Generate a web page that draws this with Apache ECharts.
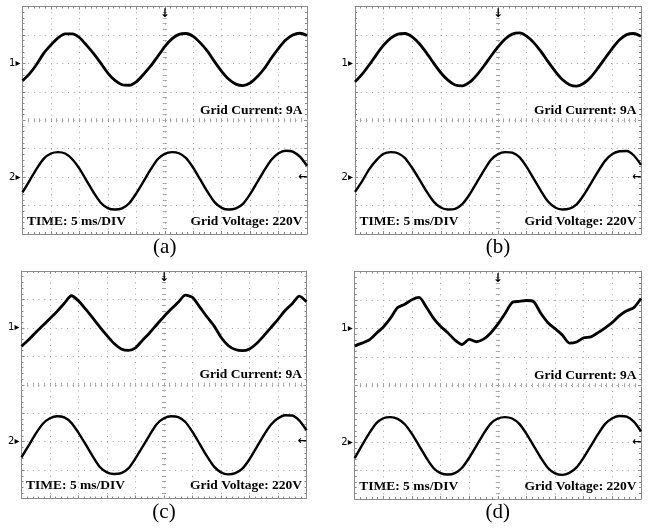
<!DOCTYPE html>
<html>
	<head>
		<meta charset="UTF-8">
		<title>Grid current and grid voltage</title>
	</head>
	<style>
		*{
			padding:0;
			margin:0;
		}
		body{
			background:#fff;
		}
		#main{
			width:654px;
			height:529px;
		}
	</style>
	<body>
		<div id="main"></div>
	</body>
	<script type="text/javascript" src="https://cdn.jsdelivr.net/npm/echarts@6/dist/echarts.min.js"></script>
	<script>
		// time in divisions from screen centre (5 ms/DIV)
		var timeDiv = [-5,-4.75,-4.5,-4.25,-4,-3.75,-3.5,-3.25,-3,-2.75,-2.5,-2.25,-2,-1.75,-1.5,-1.25,-1,-0.75,-0.5,-0.25,0,
			0.25,0.5,0.75,1,1.25,1.5,1.75,2,2.25,2.5,2.75,3,3.25,3.5,3.75,4,4.25,4.5,4.75,5];

		// channel 1 = grid current (centre line at +2 div), channel 2 = grid voltage (centre line at -2 div)
		var currentA = [1.39,1.64,1.97,2.36,2.65,2.90,3.04,3.04,2.91,2.64,2.34,2.01,1.66,1.40,1.25,1.23,1.35,1.61,1.90,2.24,
			2.59,2.86,3.02,3.05,2.95,2.72,2.43,2.06,1.72,1.44,1.27,1.22,1.31,1.53,1.82,2.19,2.53,2.82,3.00,3.06,2.98];
		var voltageA = [-2.54,-2.12,-1.70,-1.35,-1.17,-1.12,-1.17,-1.37,-1.70,-2.12,-2.54,-2.90,-3.09,-3.14,-3.10,-2.92,-2.57,-2.16,-1.74,-1.37,
			-1.18,-1.12,-1.16,-1.33,-1.67,-2.09,-2.51,-2.88,-3.08,-3.14,-3.10,-2.94,-2.60,-2.18,-1.76,-1.39,-1.16,-1.07,-1.10,-1.28,-1.60];

		var currentB = [1.35,1.62,1.95,2.31,2.64,2.89,3.03,3.05,2.93,2.69,2.37,2.01,1.67,1.41,1.24,1.21,1.33,1.58,1.90,2.25,
			2.58,2.86,3.03,3.07,2.96,2.73,2.42,2.06,1.72,1.43,1.25,1.20,1.30,1.52,1.84,2.19,2.53,2.83,3.01,3.05,2.95];
		var voltageB = [-2.52,-2.14,-1.72,-1.40,-1.18,-1.12,-1.16,-1.33,-1.68,-2.08,-2.50,-2.86,-3.07,-3.14,-3.12,-2.95,-2.62,-2.20,-1.78,-1.40,
			-1.19,-1.12,-1.14,-1.30,-1.64,-2.06,-2.48,-2.86,-3.07,-3.14,-3.11,-2.96,-2.63,-2.22,-1.80,-1.42,-1.19,-1.09,-1.08,-1.24,-1.57];

		var currentC = [1.35,1.58,1.84,2.08,2.33,2.58,2.86,3.13,2.95,2.66,2.35,2.03,1.73,1.45,1.26,1.21,1.30,1.57,1.83,2.12,
			2.40,2.66,2.90,3.15,3.07,2.74,2.40,2.08,1.67,1.38,1.24,1.20,1.26,1.45,1.72,2.01,2.30,2.61,2.85,3.12,2.92];
		var voltageC = [-2.55,-2.14,-1.72,-1.37,-1.18,-1.11,-1.15,-1.34,-1.69,-2.10,-2.52,-2.89,-3.08,-3.14,-3.11,-2.94,-2.59,-2.18,-1.76,-1.38,
			-1.18,-1.11,-1.14,-1.31,-1.66,-2.08,-2.50,-2.87,-3.08,-3.15,-3.11,-2.95,-2.62,-2.20,-1.78,-1.41,-1.18,-1.07,-1.08,-1.26,-1.60];

		var currentD = [1.38,1.48,1.59,1.82,2.05,2.36,2.73,2.85,3.01,3.09,2.75,2.36,2.07,1.85,1.59,1.43,1.61,1.53,1.62,1.84,
			2.15,2.52,2.91,2.95,2.98,2.94,2.53,2.20,1.99,1.77,1.48,1.52,1.67,1.70,1.85,2.02,2.21,2.45,2.62,2.73,3.05];
		var voltageD = [-2.56,-2.12,-1.70,-1.34,-1.16,-1.12,-1.18,-1.37,-1.71,-2.13,-2.55,-2.91,-3.09,-3.14,-3.09,-2.90,-2.55,-2.13,-1.71,-1.35,
			-1.17,-1.12,-1.17,-1.36,-1.71,-2.13,-2.55,-2.91,-3.10,-3.15,-3.08,-2.89,-2.54,-2.13,-1.72,-1.36,-1.16,-1.08,-1.10,-1.28,-1.62];

		var captions = ["(a)","(b)","(c)","(d)"];
		var currents = [currentA,currentB,currentC,currentD];
		var voltages = [voltageA,voltageB,voltageC,voltageD];

		// scope screen positions
		var boxes = [
			{l:22.5,t:6.5,w:284.5,h:227.5},
			{l:355,t:6.5,w:286,h:227.5},
			{l:21.5,t:271,w:285,h:227.5},
			{l:354.7,t:271.5,w:286.3,h:227.5}
		];

		var FRAME = "#8a8a8a";
		var DOTS = "#a3a3a3";
		var TXT = "bold 13.5px 'Liberation Serif'";

		function tickAxis(g,pos,inside,lineShow,color,isX){
			return {
				gridIndex:g, type:"value", position:pos,
				min:isX?-5:-4, max:isX?5:4, interval:1,
				axisLine:{show:lineShow, onZero:false, lineStyle:{color:FRAME,width:1}},
				axisTick:{show:true, inside:inside, length:lineShow?3:2, lineStyle:{color:color}},
				minorTick:{show:true, splitNumber:5, length:2, lineStyle:{color:color}},
				axisLabel:{show:false},
				splitLine:{show:false}
			};
		}
		function hiddenAxis(g,isX){
			return {gridIndex:g, type:"value", show:false, min:isX?-5:-4, max:isX?5:4};
		}

		function buildOption(){
			var option = {
				animation:false,
				backgroundColor:"#fff",
				grid:[], xAxis:[], yAxis:[], series:[], graphic:[]
			};

			for(var i=0;i<4;i++){
				var b = boxes[i];

				// main screen
				var g = option.grid.length;
				option.grid.push({left:b.l, top:b.t, width:b.w, height:b.h, show:false});
				var xi = option.xAxis.length, yi = option.yAxis.length;

				var axBottom = tickAxis(g,"bottom",true,true,FRAME,true);
				axBottom.splitLine = {show:true, lineStyle:{color:DOTS, width:1, type:[1,4.69]}};
				axBottom.name = captions[i];
				axBottom.nameLocation = "middle";
				axBottom.nameGap = 3;
				axBottom.nameTextStyle = {fontFamily:"Liberation Serif", fontSize:21, color:"#000"};
				var axTop = tickAxis(g,"top",true,true,FRAME,true);
				axTop.axisLabel = {show:true, margin:-13, fontSize:12, fontWeight:"bold", color:"#000",
					fontFamily:"DejaVu Sans", formatter:function(v){ return v===0 ? "↓" : ""; }};
				option.xAxis.push(axBottom, axTop);

				var axLeft = tickAxis(g,"left",true,true,FRAME,false);
				axLeft.splitLine = {show:true, lineStyle:{color:DOTS, width:1, type:[1,4.69]}};
				axLeft.axisLabel = {show:true, margin:2, fontSize:10, color:"#000", fontFamily:"DejaVu Sans",
					formatter:function(v){ return v===2 ? "1▸" : (v===-2 ? "2▸" : ""); }};
				var axRight = tickAxis(g,"right",true,true,FRAME,false);
				axRight.axisLabel = {show:true, margin:-9, fontSize:11, fontWeight:"bold", color:"#000", fontFamily:"DejaVu Sans",
					formatter:function(v){ return v===-2 ? "←" : ""; }};
				option.yAxis.push(axLeft, axRight);

				// helper grid: lower half, its top edge is the horizontal centre line
				var gh = option.grid.length;
				option.grid.push({left:b.l, top:b.t+b.h/2, width:b.w, height:b.h/2, show:false});
				option.xAxis.push(tickAxis(gh,"top",true,false,DOTS,true), tickAxis(gh,"top",false,false,DOTS,true));
				option.yAxis.push(hiddenAxis(gh,false));

				// helper grid: right half, its left edge is the vertical centre line
				var gv = option.grid.length;
				option.grid.push({left:b.l+b.w/2, top:b.t, width:b.w/2, height:b.h, show:false});
				option.yAxis.push(tickAxis(gv,"left",true,false,DOTS,false), tickAxis(gv,"left",false,false,DOTS,false));
				option.xAxis.push(hiddenAxis(gv,true));

				var cur = [], vol = [];
				for(var k=0;k<timeDiv.length;k++){
					cur.push([timeDiv[k], currents[i][k]]);
					vol.push([timeDiv[k], voltages[i][k]]);
				}
				option.series.push(
					{name:"Grid Current", type:"line", xAxisIndex:xi, yAxisIndex:yi, data:cur, showSymbol:false,
						smooth:0.25, silent:true, lineStyle:{color:"#000", width:2.8}},
					{name:"Grid Voltage", type:"line", xAxisIndex:xi, yAxisIndex:yi, data:vol, showSymbol:false,
						smooth:0.25, silent:true, lineStyle:{color:"#000", width:2.4}}
				);

				option.graphic.push(
					{type:"text", x:b.l+b.w-4.5, y:b.t+104, style:{text:"Grid Current: 9A", font:TXT, fill:"#000", align:"right", verticalAlign:"middle"}},
					{type:"text", x:b.l+4.5, y:b.t+b.h-12.5, style:{text:"TIME: 5 ms/DIV", font:TXT, fill:"#000", align:"left", verticalAlign:"middle"}},
					{type:"text", x:b.l+b.w-4.5, y:b.t+b.h-12.5, style:{text:"Grid Voltage: 220V", font:TXT, fill:"#000", align:"right", verticalAlign:"middle"}}
				);
			}
			return option;
		}

		var chart = echarts.init(document.getElementById("main"));
		chart.setOption(buildOption());
	</script>
</html>
